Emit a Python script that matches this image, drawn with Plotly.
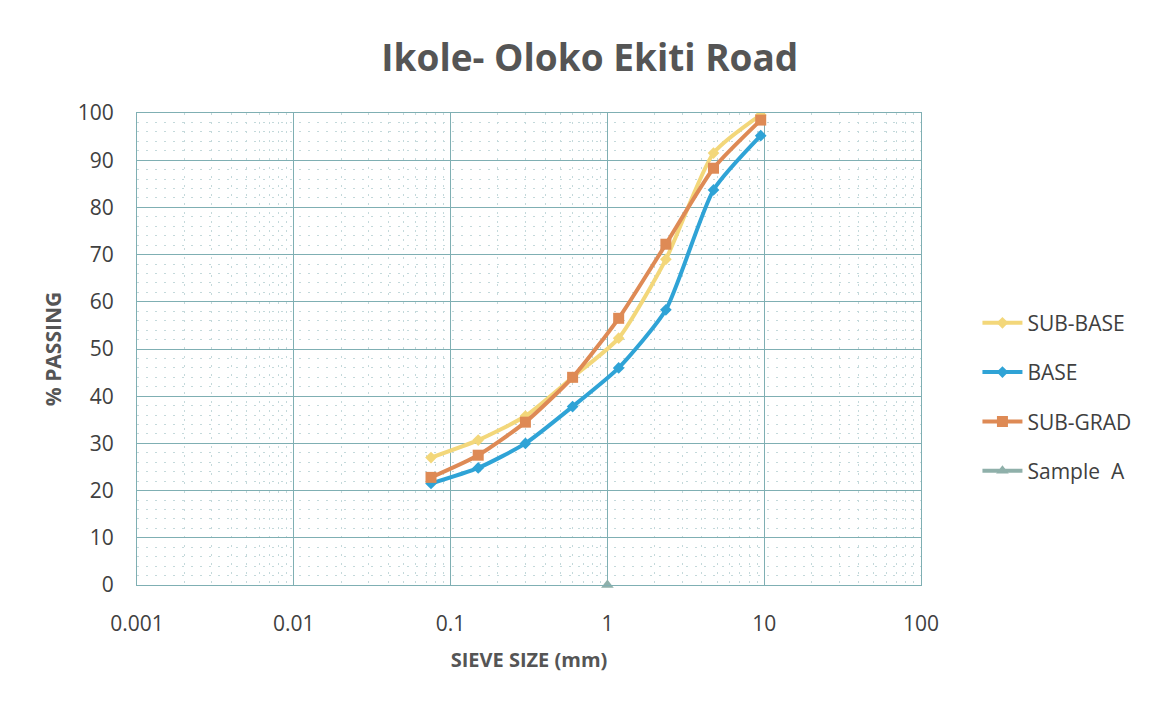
import plotly.graph_objects as go

# Sieve sizes (mm) and percent passing for each layer
sieve_mm = [0.075, 0.15, 0.3, 0.6, 1.18, 2.36, 4.75, 9.5]
sub_base = [27.0, 30.7, 35.8, 44.0, 52.3, 69.0, 91.5, 99.6]
base = [21.5, 24.8, 30.0, 37.8, 46.0, 58.3, 83.7, 95.2]
sub_grad = [22.8, 27.5, 34.5, 44.0, 56.5, 72.2, 88.3, 98.5]
sample_a_x = [1.0]
sample_a_y = [0.0]

x_ticks = [0.001, 0.01, 0.1, 1, 10, 100]
x_tick_text = ["0.001", "0.01", "0.1", "1", "10", "100"]

grid_col = "#7FAFB3"
minor_col = "#C4D9DB"
text_col = "#404040"
font_family = "Open Sans, Lato, sans-serif"

fig = go.Figure()

fig.add_trace(go.Scatter(
    x=sieve_mm, y=sub_base, name="SUB-BASE", mode="lines+markers",
    line=dict(color="#F3D77A", width=4, shape="spline", smoothing=0.6),
    marker=dict(symbol="diamond", size=9, color="#F3D77A"),
    legendgroup="a"))
fig.add_trace(go.Scatter(
    x=sieve_mm, y=base, name="BASE", mode="lines+markers",
    line=dict(color="#2FA3D6", width=4, shape="spline", smoothing=0.6),
    marker=dict(symbol="diamond", size=9, color="#2FA3D6"),
    legendgroup="b"))
fig.add_trace(go.Scatter(
    x=sieve_mm, y=sub_grad, name="SUB-GRAD", mode="lines+markers",
    line=dict(color="#DE8A55", width=4, shape="spline", smoothing=0.6),
    marker=dict(symbol="square", size=11, color="#DE8A55"),
    legendgroup="c"))
fig.add_trace(go.Scatter(
    x=sample_a_x, y=sample_a_y, name="Sample  A", mode="lines+markers",
    line=dict(color="#8FB0AA", width=4),
    marker=dict(symbol="triangle-up", size=11, color="#8FB0AA"),
    cliponaxis=False, legendgroup="d"))

fig.update_layout(
    width=1161, height=701,
    paper_bgcolor="white", plot_bgcolor="white",
    margin=dict(l=137, r=240, t=113, b=116, autoexpand=False),
    font=dict(family=font_family, size=21, color=text_col),
    title=dict(
        text="<b>Ikole- Oloko Ekiti Road</b>",
        x=0.508, xanchor="center", y=0.917, yanchor="middle",
        font=dict(size=37, color="#555555", family=font_family)),
    legend=dict(
        x=1.072, xanchor="left", y=0.398, yanchor="middle",
        font=dict(size=21, color=text_col),
        tracegroupgap=19, itemwidth=40, bgcolor="rgba(0,0,0,0)"),
    showlegend=True,
)

fig.update_xaxes(
    type="log", range=[-3, 2],
    tickvals=x_ticks, ticktext=x_tick_text,
    showgrid=True, gridcolor=grid_col, gridwidth=1,
    showline=True, linecolor=grid_col, mirror=True,
    zeroline=False, ticks="",
    ticklabelstandoff=20,
    minor=dict(dtick="D1", showgrid=True, gridcolor=minor_col,
               griddash="2px,7px", gridwidth=1, ticks=""),
    title=dict(text="<b>SIEVE SIZE (mm)</b>", standoff=16,
               font=dict(size=20, color="#555555")),
    tickfont=dict(size=21, color=text_col),
)
fig.update_yaxes(
    range=[0, 100], dtick=10,
    showgrid=True, gridcolor=grid_col, gridwidth=1,
    showline=True, linecolor=grid_col, mirror=True,
    zeroline=True, zerolinecolor=grid_col, ticks="",
    ticklabelstandoff=18,
    minor=dict(dtick=2, showgrid=True, gridcolor=minor_col,
               griddash="2px,7px", gridwidth=1, ticks=""),
    title=dict(text="<b>% PASSING</b>", standoff=10,
               font=dict(size=21, color="#555555")),
    tickfont=dict(size=21, color=text_col),
)

fig.write_html("out.html")
